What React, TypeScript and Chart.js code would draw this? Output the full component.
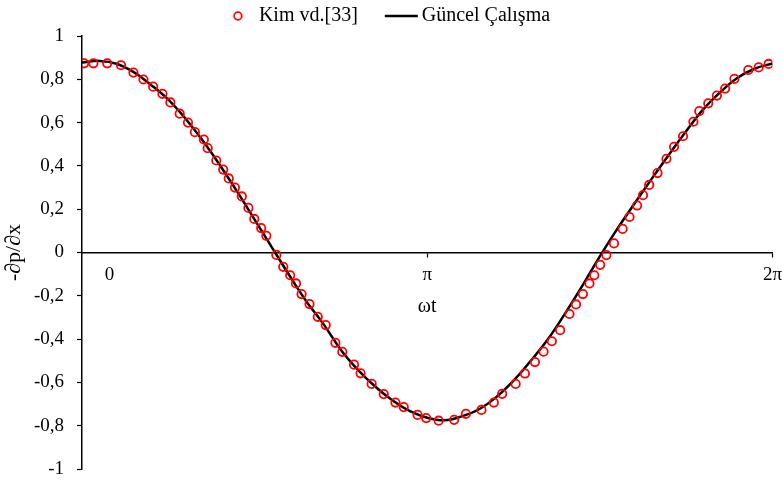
import React, { useEffect, useRef } from 'react';
import { Chart, registerables } from 'chart.js';

Chart.register(...registerables);

// x values are in units of π (0 … 2 → 0 … 2π)
const kimX = [
  0.006, 0.033, 0.073, 0.113, 0.149, 0.178, 0.206, 0.233, 0.256, 0.283,
  0.307, 0.327, 0.353, 0.364, 0.389, 0.409, 0.425, 0.443, 0.463, 0.482,
  0.499, 0.519, 0.534, 0.563, 0.583, 0.603, 0.620, 0.636, 0.659, 0.683,
  0.706, 0.734, 0.754, 0.788, 0.807, 0.839, 0.874, 0.908, 0.932, 0.972,
  0.997, 1.033, 1.078, 1.112, 1.157, 1.193, 1.217, 1.256, 1.283, 1.312,
  1.337, 1.361, 1.385, 1.412, 1.431, 1.451, 1.470, 1.484, 1.501, 1.519,
  1.541, 1.566, 1.586, 1.608, 1.625, 1.643, 1.667, 1.693, 1.715, 1.741,
  1.771, 1.788, 1.814, 1.839, 1.863, 1.890, 1.930, 1.960, 1.989,
];
const kimY = [
  0.874, 0.874, 0.874, 0.865, 0.831, 0.799, 0.766, 0.733, 0.693, 0.641,
  0.600, 0.556, 0.522, 0.482, 0.425, 0.383, 0.342, 0.300, 0.259, 0.206,
  0.155, 0.113, 0.077, -0.011, -0.066, -0.105, -0.143, -0.192, -0.238, -0.297,
  -0.335, -0.417, -0.459, -0.518, -0.558, -0.607, -0.654, -0.693, -0.714, -0.750,
  -0.765, -0.777, -0.773, -0.745, -0.727, -0.693, -0.653, -0.607, -0.559, -0.506,
  -0.458, -0.410, -0.359, -0.284, -0.240, -0.192, -0.143, -0.105, -0.057, -0.012,
  0.042, 0.109, 0.164, 0.217, 0.265, 0.312, 0.367, 0.433, 0.488, 0.537,
  0.604, 0.653, 0.689, 0.725, 0.757, 0.802, 0.843, 0.855, 0.871,
];

const lineX = [
  0.00, 0.05, 0.10, 0.15, 0.20, 0.25, 0.30, 0.35, 0.40, 0.45,
  0.50, 0.55, 0.60, 0.65, 0.70, 0.75, 0.80, 0.85, 0.90, 0.95,
  1.00, 1.05, 1.10, 1.15, 1.20, 1.25, 1.30, 1.35, 1.40, 1.45,
  1.50, 1.55, 1.60, 1.65, 1.70, 1.75, 1.80, 1.85, 1.90, 1.95, 2.00,
];
const lineY = [
  0.878, 0.885, 0.872, 0.833, 0.774, 0.706, 0.618, 0.516, 0.402, 0.280,
  0.152, 0.024, -0.104, -0.226, -0.332, -0.450, -0.543, -0.620, -0.684, -0.733,
  -0.763, -0.775, -0.757, -0.724, -0.668, -0.592, -0.500, -0.400, -0.280, -0.152,
  -0.018, 0.108, 0.225, 0.340, 0.452, 0.560, 0.662, 0.742, 0.808, 0.850, 0.873,
];

const seriesNames = ['Kim vd.[33]', 'Güncel Çalışma'];
const xTickValues = [0.08, 1, 2];
const xTickLabels = ['0', 'π', '2π'];
const xTitle = 'ωt';
const yTitle = '-∂p/∂x';

const FONT = "'Liberation Serif', 'Times New Roman', serif";

function makeCircleImg(): HTMLCanvasElement {
  const c = document.createElement('canvas');
  c.width = 46;
  c.height = 12;
  const g = c.getContext('2d')!;
  g.strokeStyle = '#ff0000';
  g.lineWidth = 1.8;
  g.beginPath();
  g.arc(35, 6, 3.8, 0, Math.PI * 2);
  g.stroke();
  return c;
}

function makeLineImg(): HTMLCanvasElement {
  const c = document.createElement('canvas');
  c.width = 60;
  c.height = 6;
  const g = c.getContext('2d')!;
  g.strokeStyle = '#000000';
  g.lineWidth = 2.5;
  g.beginPath();
  g.moveTo(26, 3);
  g.lineTo(59, 3);
  g.stroke();
  return c;
}

export default function App() {
  const ref = useRef<HTMLCanvasElement | null>(null);

  useEffect(() => {
    if (!ref.current) return;
    const circleImg = makeCircleImg();
    const lineImg = makeLineImg();
    const chart = new Chart(ref.current, {
      type: 'scatter',
      data: {
        datasets: [
          {
            label: seriesNames[0],
            data: kimX.map((x, i) => ({ x, y: kimY[i] })),
            showLine: false,
            pointStyle: 'circle',
            pointRadius: 4.2,
            pointBorderWidth: 1.8,
            pointBorderColor: '#ff0000',
            pointBackgroundColor: 'rgba(0,0,0,0)',
            borderColor: '#ff0000',
            backgroundColor: 'rgba(0,0,0,0)',
          },
          {
            label: seriesNames[1],
            data: lineX.map((x, i) => ({ x, y: lineY[i] })),
            showLine: true,
            pointRadius: 0,
            borderColor: '#000000',
            borderWidth: 2.5,
            tension: 0.4,
            fill: false,
          },
        ],
      },
      options: {
        animation: false,
        responsive: false,
        layout: { padding: { left: -29, right: 0, top: -2, bottom: 16 } },
        plugins: {
          tooltip: { enabled: false },
          legend: {
            position: 'top',
            labels: {
              usePointStyle: true,
              pointStyleWidth: 46,
              padding: 8,
              color: '#000',
              font: { family: FONT, size: 20 },
              generateLabels: (ch: any) => {
                const items = (Chart.defaults.plugins.legend.labels as any).generateLabels(ch);
                items[0].pointStyle = circleImg;
                items[1].pointStyle = lineImg;
                return items;
              },
            },
          },
        },
        scales: {
          x: {
            type: 'linear',
            position: { y: 0 } as any,
            min: 0,
            max: 2,
            afterBuildTicks: (axis: any) => {
              axis.ticks = xTickValues.map((v) => ({ value: v }));
            },
            ticks: {
              autoSkip: false,
              maxRotation: 0,
              padding: 0,
              color: '#000',
              font: { family: FONT, size: 19, lineHeight: 2 },
              callback: (v: any) => {
                const i = xTickValues.indexOf(Number(v));
                return i >= 0 ? xTickLabels[i] : '';
              },
            },
            grid: {
              drawOnChartArea: false,
              drawTicks: true,
              tickLength: 4,
              tickWidth: 1.2,
              tickColor: (ctx: any) => (ctx.tick && ctx.tick.value < 0.5 ? 'rgba(0,0,0,0)' : '#000'),
            },
            border: { display: true, color: '#000', width: 1.5 },
            title: {
              display: true,
              text: xTitle,
              color: '#000',
              font: { family: FONT, size: 20 },
              padding: { top: 0, bottom: 0 },
            },
          },
          y: {
            type: 'linear',
            min: -1,
            max: 1,
            afterFit: (scale: any) => {
              scale.width = 111;
            },
            ticks: {
              stepSize: 0.2,
              padding: 13,
              color: '#000',
              font: { family: FONT, size: 19, lineHeight: 0.3 },
              callback: (v: any) => String(Math.round(Number(v) * 10) / 10).replace('.', ','),
            },
            grid: {
              drawOnChartArea: false,
              drawTicks: true,
              tickLength: 5,
              tickWidth: 1.2,
              tickColor: '#000',
            },
            border: { display: true, color: '#000', width: 1.5 },
            title: {
              display: true,
              text: yTitle,
              color: '#000',
              font: { family: FONT, size: 22 },
              padding: { top: 30, bottom: 0 },
            },
          },
        },
      },
    });
    return () => chart.destroy();
  }, []);

  return (
    <div style={{ position: 'fixed', left: 0, top: 0, width: 782, height: 485, background: '#fff' }}>
      <canvas ref={ref} width={782} height={485} style={{ display: 'block' }} />
    </div>
  );
}
